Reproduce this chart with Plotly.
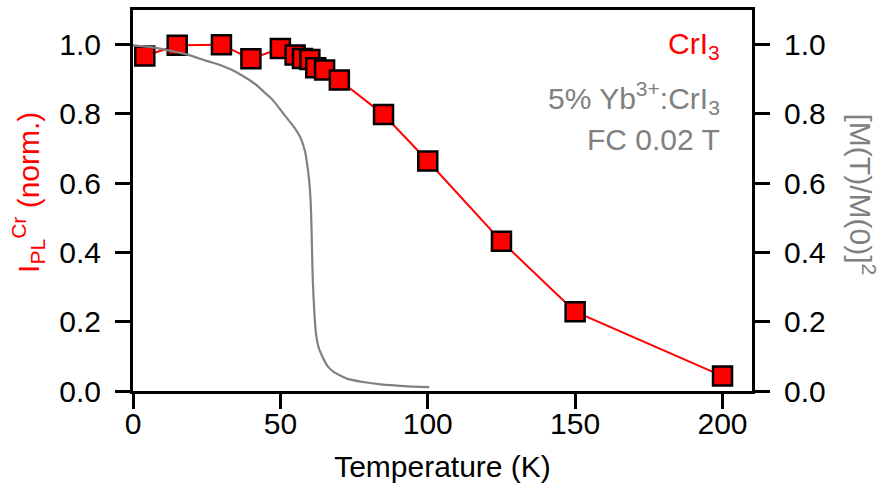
import plotly.graph_objects as go

# PL intensity of CrI3 (red squares)
pl_T = [4, 15, 30, 40, 50, 55, 57.5, 60, 62, 65, 70, 85, 100, 125, 150, 200]
pl_I = [0.967, 0.998, 1.0, 0.959, 0.989, 0.970, 0.960, 0.957, 0.933, 0.927, 0.898,
        0.798, 0.664, 0.432, 0.229, 0.043]

# Magnetization squared, 5% Yb3+:CrI3, FC 0.02 T (gray curve)
m_T = [0, 5, 10, 15, 18.6, 25, 30, 33.3, 37, 40, 42.5, 44.6, 46.5, 48, 51, 54.7, 57,
       58.4, 59.3, 60.0, 60.4, 60.7, 61.0, 61.5, 62.1, 63, 64.4, 66, 68.3, 72.8, 78,
       84.1, 92, 100.5]
m_M2 = [0.998, 0.994, 0.987, 0.978, 0.971, 0.953, 0.940, 0.928, 0.911, 0.895, 0.879,
        0.862, 0.848, 0.834, 0.801, 0.761, 0.728, 0.690, 0.642, 0.585, 0.518, 0.42,
        0.32, 0.23, 0.164, 0.125, 0.097, 0.072, 0.054, 0.035, 0.026, 0.019, 0.014, 0.011]

x_ticks = [0, 50, 100, 150, 200]
y_ticks = [0.0, 0.2, 0.4, 0.6, 0.8, 1.0]
y_ticklabels = ["0.0", "0.2", "0.4", "0.6", "0.8", "1.0"]

X_RANGE = [0, 210]
Y_RANGE = [0, 1.1]

FONT = "Liberation Sans, Arial, Helvetica, sans-serif"
GRAY = "rgb(128,128,128)"
RED = "rgb(255,0,0)"
CLEAR = "rgba(0,0,0,0)"
FS = 30

fig = go.Figure()
# gray magnetization curve on right axis
fig.add_trace(go.Scatter(x=m_T, y=m_M2, mode="lines", xaxis="x2", yaxis="y2",
                         line=dict(color=GRAY, width=2.2, shape="spline", smoothing=0.5),
                         showlegend=False))
# red PL data on left axis
fig.add_trace(go.Scatter(x=pl_T, y=pl_I, mode="lines+markers", xaxis="x", yaxis="y",
                         line=dict(color=RED, width=2),
                         marker=dict(symbol="square", size=19, color=RED,
                                     line=dict(color="black", width=2.5)),
                         showlegend=False))
# empty traces to register the tick-label axes
fig.add_trace(go.Scatter(x=[None], y=[None], xaxis="x", yaxis="y3", showlegend=False,
                         hoverinfo="skip"))
fig.add_trace(go.Scatter(x=[None], y=[None], xaxis="x", yaxis="y4", showlegend=False,
                         hoverinfo="skip"))

tick_axis = dict(showgrid=False, zeroline=False, showline=True, linecolor="black",
                 linewidth=3, ticks="outside", ticklen=15, tickwidth=3,
                 tickcolor="black", showticklabels=False)
label_axis = dict(showgrid=False, zeroline=False, showline=False, ticks="outside",
                  tickwidth=1, tickcolor=CLEAR, showticklabels=True,
                  tickfont=dict(family=FONT, size=FS, color="black"))

fig.update_layout(
    width=889, height=499,
    margin=dict(l=133, r=137, t=7, b=108),
    paper_bgcolor="white", plot_bgcolor="white",
    font=dict(family=FONT, size=FS, color="black"),
    xaxis=dict(range=X_RANGE, tickvals=x_ticks, mirror=True, anchor="y", **tick_axis),
    xaxis2=dict(range=X_RANGE, tickvals=x_ticks, overlaying="x", side="bottom", anchor="y",
                ticklen=6,
                title=dict(text="Temperature (K)",
                           font=dict(family=FONT, size=FS, color="black"), standoff=16),
                **label_axis),
    yaxis=dict(range=Y_RANGE, tickvals=y_ticks, side="left", anchor="x", **tick_axis),
    yaxis2=dict(range=Y_RANGE, tickvals=y_ticks, overlaying="y", side="right",
                anchor="x", **tick_axis),
    yaxis3=dict(range=Y_RANGE, tickvals=y_ticks, ticktext=y_ticklabels, overlaying="y",
                side="left", anchor="x", ticklen=25, **label_axis),
    yaxis4=dict(range=Y_RANGE, tickvals=y_ticks, ticktext=y_ticklabels, overlaying="y",
                side="right", anchor="x", ticklen=25, **label_axis),
    annotations=[
        dict(x=-0.1696, y=0.52, xref="paper", yref="paper",
             text="I<sub>PL</sub><sup>Cr</sup> (norm.)",
             textangle=-90, showarrow=False, xanchor="center", yanchor="middle",
             font=dict(family=FONT, size=FS, color=RED)),
        dict(x=1.1775, y=0.516, xref="paper", yref="paper", text="[M(T)/M(0)]<sup>2</sup>",
             textangle=90, showarrow=False, xanchor="center", yanchor="middle",
             font=dict(family=FONT, size=FS, color=GRAY)),
        dict(x=0.951, y=0.997, xref="paper", yref="y", text="CrI<sub>3</sub>",
             showarrow=False, xanchor="right", yanchor="middle",
             font=dict(family=FONT, size=FS, color=RED)),
        dict(x=0.951, y=0.845, xref="paper", yref="y", text="5% Yb<sup>3+</sup>:CrI<sub>3</sub>",
             showarrow=False, xanchor="right", yanchor="middle",
             font=dict(family=FONT, size=FS, color=GRAY)),
        dict(x=0.951, y=0.726, xref="paper", yref="y", text="FC 0.02 T",
             showarrow=False, xanchor="right", yanchor="middle",
             font=dict(family=FONT, size=FS, color=GRAY)),
    ],
)

fig.write_html("out.html")
